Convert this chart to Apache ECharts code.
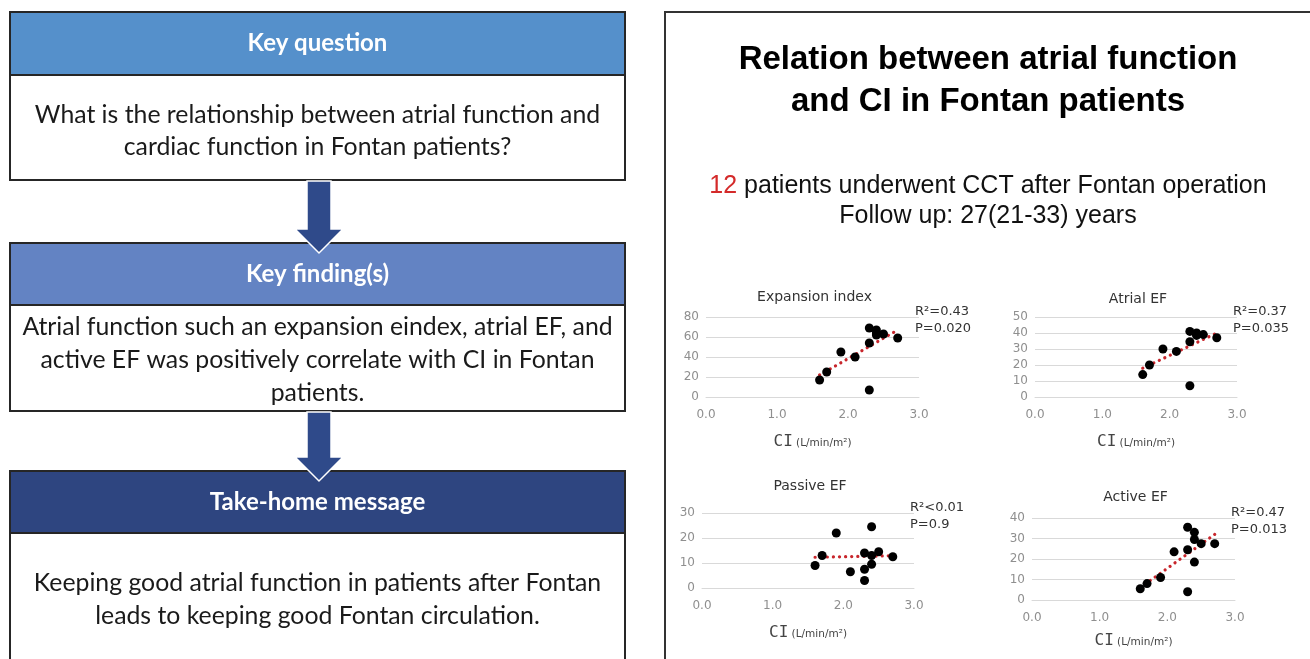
<!DOCTYPE html>
<html>
<head>
<meta charset="utf-8">
<script src="https://cdn.jsdelivr.net/npm/echarts@6/dist/echarts.min.js"></script>
<style>
html,body{margin:0;padding:0;background:#fff;}
#c{width:1310px;height:659px;}
</style>
</head>
<body>
<div id="c"></div>
<script>
// Cardiac index of the 12 Fontan patients (L/min/m²)
const ci = [1.6, 1.7, 1.9, 2.1, 2.3, 2.3, 2.3, 2.4, 2.4, 2.4, 2.5, 2.7];

// Atrial function indices, one value per patient
const expansionIndex = [17, 25, 45, 40, 69, 54, 7, 67, 64, 62, 63, 59];
const atrialEF       = [14, 20, 30, 28.5, 41, 34.5, 7, 40, 39, 38.5, 39, 37];
const passiveEF      = [9, 13, 22, 6.5, 14, 7.5, 3, 24.5, 13, 9.5, 14.5, 12.5];
const activeEF       = [5.5, 8, 11, 23.5, 35.5, 24.5, 4, 33, 29.5, 18.5, 27.5, 27.5];

// Linear trend lines (start and end point on the CI axis)
const expansionTrend = [[1.6, 22], [2.7, 67]];
const atrialTrend    = [[1.6, 18], [2.7, 40]];
const passiveTrend   = [[1.6, 12.3], [2.7, 12.9]];
const activeTrend    = [[1.6, 6], [2.7, 32]];

// Panel titles and statistics
const panelTitles = ['Expansion index', 'Atrial EF', 'Passive EF', 'Active EF'];
const r2Labels = ['R²=0.43', 'R²=0.37', 'R²<0.01', 'R²=0.47'];
const pLabels  = ['P=0.020', 'P=0.035', 'P=0.9', 'P=0.013'];

// Axis ticks
const xTicks = [0.0, 1.0, 2.0, 3.0];
const yMax  = [80, 50, 30, 40];
const yStep = [20, 10, 10, 10];

// Flow-chart texts
const boxTitles = ['Key question', 'Key finding(s)', 'Take-home message'];
const boxLines = [
  ['What is the relationship between atrial function and',
   'cardiac function in Fontan patients?'],
  ['Atrial function such an expansion eindex, atrial EF, and',
   'active EF was positively correlate with CI in Fontan',
   'patients.'],
  ['Keeping good atrial function in patients after Fontan',
   'leads to keeping good Fontan circulation.']
];
const mainTitle = ['Relation between atrial function', 'and CI in Fontan patients'];
const patientCount = '12';
const subtitle = ['patients underwent CCT after Fontan operation', 'Follow up: 27(21-33) years'];

// ---------- layout ----------
const panelData = [
  {y: expansionIndex, trend: expansionTrend, grid: {left: 706, top: 317, width: 213, height: 80}, titleY: 297, nameGap: 37},
  {y: atrialEF,       trend: atrialTrend,    grid: {left: 1035, top: 317, width: 202, height: 80}, titleY: 299, nameGap: 37},
  {y: passiveEF,      trend: passiveTrend,   grid: {left: 702, top: 513, width: 212, height: 75}, titleY: 486, nameGap: 37},
  {y: activeEF,       trend: activeTrend,    grid: {left: 1032, top: 518, width: 203, height: 82}, titleY: 497, nameGap: 33}
];

const boxLayout = [
  {top: 12,  headBottom: 75,  bottom: 180, color: '#5590cb', lineY: [115, 147]},
  {top: 243, headBottom: 305, bottom: 411, color: '#6383c3', lineY: [327, 360, 393]},
  {top: 471, headBottom: 533, bottom: 700, color: '#2e4580', lineY: [583, 616]}
];
const BX = 10, BW = 615, CX = BX + BW / 2;

const grids = [], xAxes = [], yAxes = [], series = [], graphics = [];
const axisGray = '#8f8f8f', gridGray = '#d9d9d9';

panelData.forEach((p, i) => {
  grids.push(Object.assign({containLabel: false, outerBoundsMode: 'none'}, p.grid));
  xAxes.push({
    type: 'value', gridIndex: i, min: xTicks[0], max: xTicks[xTicks.length - 1], interval: 1,
    axisLine: {show: true, lineStyle: {color: gridGray, width: 1}},
    axisTick: {show: false}, splitLine: {show: false},
    axisLabel: {color: axisGray, fontSize: 12, fontFamily: 'DejaVu Sans', margin: 12,
      formatter: v => v.toFixed(1)},
    name: '{a|CI} {b|(L/min/m²)}', nameLocation: 'middle', nameGap: p.nameGap,
    nameTextStyle: {rich: {
      a: {fontFamily: 'DejaVu Sans Mono', fontSize: 16, color: '#444'},
      b: {fontFamily: 'DejaVu Sans', fontSize: 10.5, color: '#444', padding: [2, 0, 0, 0]}
    }}
  });
  yAxes.push({
    type: 'value', gridIndex: i, min: 0, max: yMax[i], interval: yStep[i],
    axisLine: {show: false}, axisTick: {show: false},
    splitLine: {show: true, lineStyle: {color: gridGray, width: 1}},
    axisLabel: {color: axisGray, fontSize: 12, fontFamily: 'DejaVu Sans', margin: 7}
  });
  series.push({
    type: 'line', xAxisIndex: i, yAxisIndex: i, data: p.trend,
    symbol: 'none', silent: true, z: 2,
    lineStyle: {color: '#c8262c', width: 3.2, type: [0.1, 6], cap: 'round'}
  });
  series.push({
    type: 'scatter', xAxisIndex: i, yAxisIndex: i, z: 3,
    data: ci.map((c, k) => [c, p.y[k]]),
    symbol: 'circle', symbolSize: 9, itemStyle: {color: '#000', opacity: 1}
  });

  const g = p.grid;
  graphics.push({
    type: 'text', x: g.left + g.width / 2 + 2, y: p.titleY,
    style: {text: panelTitles[i], font: '14px "DejaVu Sans"', fill: '#333',
      align: 'center', verticalAlign: 'middle'}
  });
  graphics.push({
    type: 'text', x: g.left + g.width - 4, y: g.top + 3,
    style: {text: r2Labels[i] + '\n' + pLabels[i], font: '13px "DejaVu Sans"', fill: '#333',
      lineHeight: 17, align: 'left', verticalAlign: 'middle'}
  });
});

// ---------- flow chart on the left ----------
boxLayout.forEach((b, i) => {
  graphics.push({
    type: 'rect', shape: {x: BX, y: b.top, width: BW, height: b.bottom - b.top},
    style: {fill: '#fff', stroke: '#262626', lineWidth: 2}, z: 1
  });
  graphics.push({
    type: 'rect', shape: {x: BX, y: b.top, width: BW, height: b.headBottom - b.top},
    style: {fill: b.color, stroke: '#262626', lineWidth: 2}, z: 1
  });
  graphics.push({
    type: 'text', x: CX, y: (b.top + b.headBottom) / 2, z: 2,
    style: {text: boxTitles[i], font: 'bold 24px Lato', fill: '#fff',
      align: 'center', verticalAlign: 'middle'}
  });
  boxLines[i].forEach((t, k) => {
    graphics.push({
      type: 'text', x: CX, y: b.lineY[k], z: 2,
      style: {text: t, font: '24.8px Lato', fill: '#1a1a1a',
        align: 'center', verticalAlign: 'middle'}
    });
  });
});

// arrows between the boxes
[[boxLayout[0].bottom, boxLayout[1].top], [boxLayout[1].bottom, boxLayout[2].top]].forEach(([y0, y1]) => {
  const tip = y1 + 10, neck = tip - 24;
  graphics.push({
    type: 'polygon', z: 5,
    shape: {points: [[307, y0 + 1], [331, y0 + 1], [331, neck], [343, neck], [319, tip],
                     [295, neck], [307, neck]]},
    style: {fill: '#2f4a8a', stroke: '#fff', lineWidth: 1.5}
  });
});

// ---------- right panel frame and headings ----------
graphics.push({
  type: 'rect', shape: {x: 665, y: 12, width: 700, height: 700},
  style: {fill: 'none', stroke: '#333', lineWidth: 2}, z: 0
});
graphics.push({
  type: 'text', x: 988, y: 60,
  style: {text: mainTitle[0], font: 'bold 33px "Liberation Sans"', fill: '#000',
    align: 'center', verticalAlign: 'middle'}
});
graphics.push({
  type: 'text', x: 988, y: 102,
  style: {text: mainTitle[1], font: 'bold 33px "Liberation Sans"', fill: '#000',
    align: 'center', verticalAlign: 'middle'}
});
graphics.push({
  type: 'text', x: 988, y: 186,
  style: {text: '{r|' + patientCount + '} ' + subtitle[0],
    font: '25px "Liberation Sans"', fill: '#111', align: 'center', verticalAlign: 'middle',
    rich: {r: {fill: '#d42a2a', font: '25px "Liberation Sans"'}}}
});
graphics.push({
  type: 'text', x: 988, y: 216,
  style: {text: subtitle[1], font: '25px "Liberation Sans"', fill: '#111',
    align: 'center', verticalAlign: 'middle'}
});

const chart = echarts.init(document.getElementById('c'), null, {renderer: 'canvas'});
chart.setOption({
  animation: false,
  backgroundColor: '#fff',
  grid: grids,
  xAxis: xAxes,
  yAxis: yAxes,
  series: series,
  graphic: {elements: graphics}
});
</script>
</body>
</html>
